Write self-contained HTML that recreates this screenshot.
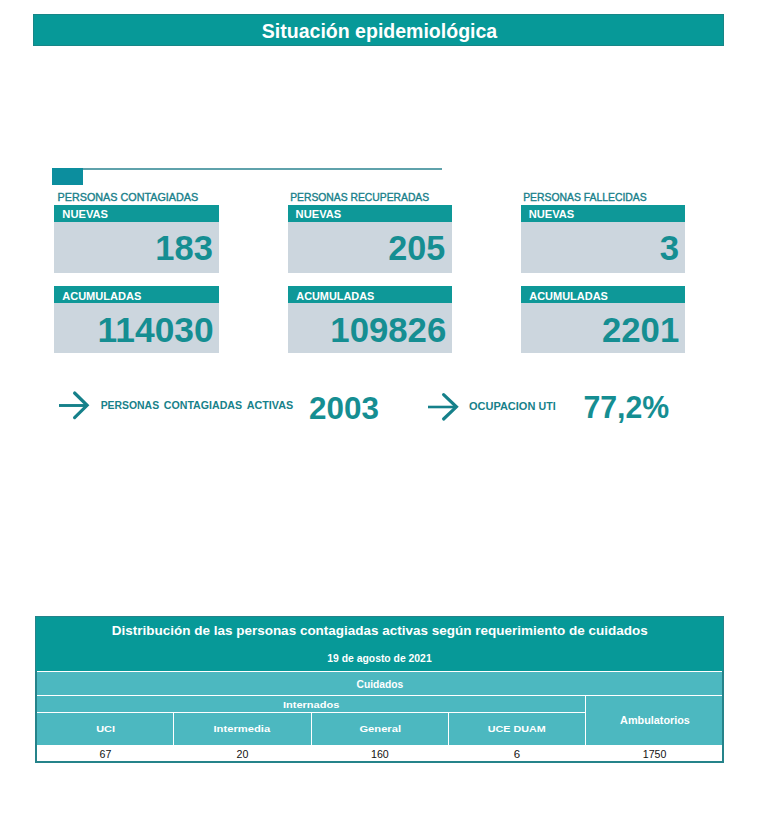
<!DOCTYPE html>
<html><head><meta charset="utf-8"><title>Situación epidemiológica</title>
<style>
html,body{margin:0;padding:0;width:763px;height:820px;background:#fff;overflow:hidden}
svg{display:block;font-family:"Liberation Sans",sans-serif}
</style></head><body>
<svg width="763" height="820" viewBox="0 0 763 820">
<g shape-rendering="crispEdges">
<rect x="33" y="14" width="691" height="32" fill="#178687"/>
<rect x="34" y="15" width="689" height="30" fill="#079998"/>
<rect x="52" y="168" width="390" height="2" fill="#5fa2ab"/>
<rect x="52" y="168" width="31" height="17" fill="#0c8e9e"/>
<rect x="54" y="205" width="165" height="17" fill="#0e9898"/>
<rect x="54" y="222" width="165" height="51" fill="#ccd6de"/>
<rect x="54" y="286" width="165" height="17" fill="#0e9898"/>
<rect x="54" y="303" width="165" height="50" fill="#ccd6de"/>
<rect x="288" y="205" width="164" height="17" fill="#0e9898"/>
<rect x="288" y="222" width="164" height="51" fill="#ccd6de"/>
<rect x="288" y="286" width="164" height="17" fill="#0e9898"/>
<rect x="288" y="303" width="164" height="50" fill="#ccd6de"/>
<rect x="521" y="205" width="164" height="17" fill="#0e9898"/>
<rect x="521" y="222" width="164" height="51" fill="#ccd6de"/>
<rect x="521" y="286" width="164" height="17" fill="#0e9898"/>
<rect x="521" y="303" width="164" height="50" fill="#ccd6de"/>
<rect x="35" y="616" width="689" height="147" fill="#25838a"/>
<rect x="36" y="617" width="687" height="54" fill="#079998"/>
<rect x="37" y="671" width="685" height="90" fill="#ffffff"/>
<rect x="37" y="672" width="685" height="23" fill="#4cb8c0"/>
<rect x="37" y="696" width="548" height="16" fill="#4cb8c0"/>
<rect x="586" y="696" width="136" height="49" fill="#4cb8c0"/>
<rect x="37" y="713" width="136" height="32" fill="#4cb8c0"/>
<rect x="174" y="713" width="137" height="32" fill="#4cb8c0"/>
<rect x="312" y="713" width="136" height="32" fill="#4cb8c0"/>
<rect x="449" y="713" width="136" height="32" fill="#4cb8c0"/>
</g>

<g stroke="#15808a" fill="none">
 <path d="M59 405.5H86" stroke-width="2.9"/>
 <path d="M74.6 393L87.1 405.3L74.6 417.6" stroke-width="3.2" stroke-linecap="round" stroke-linejoin="miter"/>
 <path d="M428 407H455" stroke-width="2.6"/>
 <path d="M443.6 394.6L456.4 406.8L443.6 419" stroke-width="3.2" stroke-linecap="round" stroke-linejoin="miter"/>
</g>

<text x="261.81" y="37.80" font-size="19.49" font-weight="bold" fill="#ffffff" textLength="235.42" lengthAdjust="spacingAndGlyphs">Situación epidemiológica</text>
<text x="57.64" y="200.60" font-size="10.24" fill="#17808a" stroke="#17808a" stroke-width="0.35" textLength="140.46" lengthAdjust="spacingAndGlyphs">PERSONAS CONTAGIADAS</text>
<text x="290.17" y="200.60" font-size="10.24" fill="#17808a" stroke="#17808a" stroke-width="0.35" textLength="139.01" lengthAdjust="spacingAndGlyphs">PERSONAS RECUPERADAS</text>
<text x="523.17" y="200.60" font-size="10.24" fill="#17808a" stroke="#17808a" stroke-width="0.35" textLength="123.52" lengthAdjust="spacingAndGlyphs">PERSONAS FALLECIDAS</text>
<text x="62.33" y="218.30" font-size="10.53" font-weight="bold" fill="#ffffff" textLength="45.68" lengthAdjust="spacingAndGlyphs">NUEVAS</text>
<text x="295.63" y="218.30" font-size="10.53" font-weight="bold" fill="#ffffff" textLength="45.58" lengthAdjust="spacingAndGlyphs">NUEVAS</text>
<text x="528.73" y="218.30" font-size="10.53" font-weight="bold" fill="#ffffff" textLength="45.58" lengthAdjust="spacingAndGlyphs">NUEVAS</text>
<text x="62.18" y="299.90" font-size="10.38" font-weight="bold" fill="#ffffff" textLength="79.23" lengthAdjust="spacingAndGlyphs">ACUMULADAS</text>
<text x="296.28" y="299.90" font-size="10.38" font-weight="bold" fill="#ffffff" textLength="78.02" lengthAdjust="spacingAndGlyphs">ACUMULADAS</text>
<text x="529.28" y="299.90" font-size="10.38" font-weight="bold" fill="#ffffff" textLength="78.63" lengthAdjust="spacingAndGlyphs">ACUMULADAS</text>
<text x="155.33" y="260.20" font-size="35.42" font-weight="bold" fill="#158e92" textLength="57.51" lengthAdjust="spacingAndGlyphs">183</text>
<text x="388.27" y="260.20" font-size="35.42" font-weight="bold" fill="#158e92" textLength="57.02" lengthAdjust="spacingAndGlyphs">205</text>
<text x="659.70" y="260.20" font-size="35.42" font-weight="bold" fill="#158e92" textLength="19.35" lengthAdjust="spacingAndGlyphs">3</text>
<text x="97.58" y="342.00" font-size="35.70" font-weight="bold" fill="#158e92" textLength="116.10" lengthAdjust="spacingAndGlyphs">114030</text>
<text x="330.32" y="342.00" font-size="35.70" font-weight="bold" fill="#158e92" textLength="115.94" lengthAdjust="spacingAndGlyphs">109826</text>
<text x="601.96" y="342.00" font-size="35.70" font-weight="bold" fill="#158e92" textLength="77.25" lengthAdjust="spacingAndGlyphs">2201</text>
<text x="100.68" y="409.20" font-size="10.38" font-weight="bold" fill="#17818a" textLength="58.41" lengthAdjust="spacingAndGlyphs">PERSONAS</text>
<text x="163.77" y="409.20" font-size="10.38" font-weight="bold" fill="#17818a" textLength="78.32" lengthAdjust="spacingAndGlyphs">CONTAGIADAS</text>
<text x="246.68" y="409.20" font-size="10.38" font-weight="bold" fill="#17818a" textLength="46.51" lengthAdjust="spacingAndGlyphs">ACTIVAS</text>
<text x="468.96" y="410.40" font-size="10.53" font-weight="bold" fill="#17818a" textLength="66.42" lengthAdjust="spacingAndGlyphs">OCUPACION</text>
<text x="538.56" y="410.40" font-size="10.53" font-weight="bold" fill="#17818a" textLength="17.15" lengthAdjust="spacingAndGlyphs">UTI</text>
<text x="309.06" y="418.70" font-size="30.73" font-weight="bold" fill="#158e92" textLength="69.88" lengthAdjust="spacingAndGlyphs">2003</text>
<text x="583.39" y="418.40" font-size="30.44" font-weight="bold" fill="#158e92" textLength="85.79" lengthAdjust="spacingAndGlyphs">77,2%</text>
<text x="111.69" y="635.40" font-size="13.37" font-weight="bold" fill="#ffffff" textLength="536.10" lengthAdjust="spacingAndGlyphs">Distribución de las personas contagiadas activas según requerimiento de cuidados</text>
<text x="327.28" y="661.60" font-size="10.10" font-weight="bold" fill="#ffffff" textLength="104.39" lengthAdjust="spacingAndGlyphs">19 de agosto de 2021</text>
<text x="356.59" y="687.60" font-size="10.81" font-weight="bold" fill="#ffffff" textLength="46.68" lengthAdjust="spacingAndGlyphs">Cuidados</text>
<text x="282.94" y="707.90" font-size="9.96" font-weight="bold" fill="#ffffff" textLength="56.36" lengthAdjust="spacingAndGlyphs">Internados</text>
<text x="620.08" y="723.90" font-size="10.67" font-weight="bold" fill="#ffffff" textLength="69.81" lengthAdjust="spacingAndGlyphs">Ambulatorios</text>
<text x="96.25" y="731.90" font-size="9.96" font-weight="bold" fill="#ffffff" textLength="18.79" lengthAdjust="spacingAndGlyphs">UCI</text>
<text x="213.53" y="731.90" font-size="9.96" font-weight="bold" fill="#ffffff" textLength="56.62" lengthAdjust="spacingAndGlyphs">Intermedia</text>
<text x="359.45" y="731.90" font-size="9.96" font-weight="bold" fill="#ffffff" textLength="41.60" lengthAdjust="spacingAndGlyphs">General</text>
<text x="487.86" y="731.90" font-size="9.96" font-weight="bold" fill="#ffffff" textLength="57.82" lengthAdjust="spacingAndGlyphs">UCE DUAM</text>
<text x="99.47" y="758.00" font-size="10.67" fill="#111111" textLength="11.82" lengthAdjust="spacingAndGlyphs">67</text>
<text x="236.57" y="758.00" font-size="10.67" fill="#111111" textLength="11.82" lengthAdjust="spacingAndGlyphs">20</text>
<text x="371.06" y="758.00" font-size="10.67" fill="#111111" textLength="17.73" lengthAdjust="spacingAndGlyphs">160</text>
<text x="513.83" y="758.00" font-size="10.67" fill="#111111" textLength="6.39" lengthAdjust="spacingAndGlyphs">6</text>
<text x="642.76" y="758.00" font-size="10.67" fill="#111111" textLength="23.52" lengthAdjust="spacingAndGlyphs">1750</text>
</svg>
</body></html>
